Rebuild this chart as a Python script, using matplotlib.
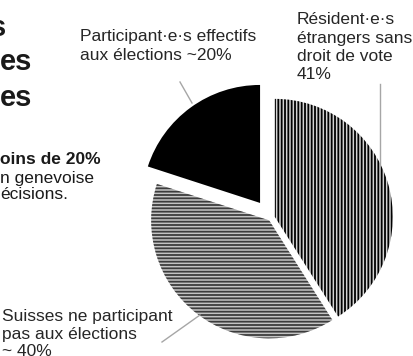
import matplotlib
matplotlib.use("Agg")
from matplotlib import pyplot as plt

plt.rcParams['font.family'] = ['Liberation Sans', 'DejaVu Sans']
plt.rcParams['hatch.linewidth'] = 1.3

# parts de la population (sens horaire depuis midi)
labels = ['Résident·e·s étrangers sans droit de vote 41%',
          'Suisses ne participant pas aux élections ~ 40%',
          'Participant·e·s effectifs aux élections ~20%']
shares = [41, 39, 20]
faces = ['#d4d4d4', '#c4c4c4', 'black']
hatch_colors = ['black', '#3c3c3c', 'black']
hatches = ['|||||', '-----', None]
explode = [4, 3, 18.6]

W, H = 413, 356
fig = plt.figure(figsize=(W / 100, H / 100), dpi=100)
ax = fig.add_axes([0, 0, 1, 1])

wedges, _ = ax.pie(shares, explode=explode, startangle=90, counterclock=False,
                   radius=118, center=(271, H - 218))
for w, fc, hc, h in zip(wedges, faces, hatch_colors, hatches):
    w.set_facecolor(fc)
    w.set_edgecolor(hc)
    w.set_linewidth(0)
    if h:
        w.set_hatch(h)

ax.set_xlim(0, W)
ax.set_ylim(0, H)
ax.set_aspect('auto')
ax.axis('off')


def txt(x, y, s, **kw):
    fig.text(x / W, 1 - y / H, s, va='center', ha='left', **kw)


# titre coupé à gauche
txt(-10, 28, 's', fontsize=21, fontweight='bold', color='#1a1a1a')
txt(0, 62, 'es', fontsize=21, fontweight='bold', color='#1a1a1a')
txt(0, 98, 'es', fontsize=21, fontweight='bold', color='#1a1a1a')

txt(0, 160, 'oins de 20%', fontsize=12.5, fontweight='bold', color='#1a1a1a')
txt(0, 178, 'n genevoise', fontsize=12.5, color='#1a1a1a')
txt(0, 195, 'écisions.', fontsize=12.5, color='#1a1a1a')

# étiquettes des parts
lab_col = '#262626'
for i, line in enumerate(['Participant·e·s effectifs', 'aux élections ~20%']):
    txt(80, 37 + 18 * i, line, fontsize=12.5, color=lab_col)
for i, line in enumerate(['Résident·e·s', 'étrangers sans', 'droit de vote', '41%']):
    txt(297, 20 + 18.3 * i, line, fontsize=12.5, color=lab_col)
for i, line in enumerate(['Suisses ne participant', 'pas aux élections', '~ 40%']):
    txt(2, 317 + 17.5 * i, line, fontsize=12.5, color=lab_col)

# traits de rappel
ax.plot([180, 192], [H - 82, H - 103], color='#a6a6a6', lw=1)
ax.plot([380, 380], [H - 84, H - 165], color='#a6a6a6', lw=1)
ax.plot([162, 200], [H - 342, H - 315], color='#a6a6a6', lw=1)

fig.savefig('out.png', dpi=100, facecolor='white')
